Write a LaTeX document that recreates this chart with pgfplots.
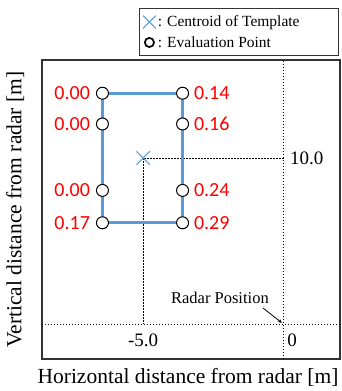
\documentclass[border=0pt]{standalone}
\usepackage{fontspec}
\setmainfont{Liberation Serif}
\newfontfamily\calfont{Carlito}
\usepackage{pgfplots}
\pgfplotsset{compat=1.18}
\definecolor{tblue}{RGB}{91,155,213}
\pgfplotsset{ptleg/.style={legend image code/.code={\draw[##1] plot coordinates {(0.2cm,0cm)};}}}
\begin{document}
\begin{tikzpicture}
\begin{axis}[
 scale only axis, width=298pt, height=299pt,
 xmin=-8.6, xmax=2, ymin=-2.1, ymax=15.9,
 xtick=\empty, ytick=\empty,
 axis line style={draw=black!80, line width=1.1pt},
 xlabel={Horizontal distance from radar [m]},
 ylabel={Vertical distance from radar [m]},
 label style={font=\fontsize{21.5}{24}\selectfont},
 xlabel style={at={(axis description cs:0.49,-0.063)}, anchor=center},
 ylabel style={at={(axis description cs:-0.09,0.5)}, anchor=center},
 legend style={at={(rel axis cs:1,1)}, anchor=south east, yshift=4pt, xshift=-1pt,
   font=\fontsize{15.5}{18}\selectfont, draw=black!80, line width=0.8pt,
   row sep=8pt, inner xsep=4pt, inner ysep=7pt,
   nodes={inner xsep=2pt, inner ysep=0pt}},
 legend cell align=left,
 clip=false,
]
\addlegendimage{only marks, mark=x, mark size=9pt, color=tblue, line width=1pt, ptleg}
\addlegendentry{: Centroid of Template\hspace*{33pt}}
\addlegendimage{only marks, mark=o, mark size=4.6pt, black, line width=1.7pt, ptleg}
\addlegendentry{: Evaluation Point}

\addplot[black, dotted, line width=1pt, forget plot] coordinates {(-8.6,0) (2,0)};
\addplot[black, dotted, line width=1pt, forget plot] coordinates {(0,-2.1) (0,15.9)};
\addplot[black, dash pattern=on 2pt off 1pt, line width=0.8pt, forget plot] coordinates {(0,10) (-5,10) (-5,0)};
\addplot[tblue, line width=3.1pt, forget plot] coordinates {(-6.45,13.9) (-3.6,13.9) (-3.6,6.1) (-6.45,6.1) (-6.45,13.9)};
\addplot[only marks, mark=x, mark size=9.5pt, tblue, line width=1.1pt, forget plot] coordinates {(-5,10)};
\addplot[only marks, mark=*, mark size=6pt, mark options={fill=white, draw=black, line width=1pt}, forget plot,
  nodes near coords, point meta=explicit symbolic,
  nodes near coords style={anchor=east, inner sep=0pt, xshift=-12pt, text=red, font=\calfont\fontsize{20}{22}\selectfont}]
  coordinates {(-6.45,13.9) [0.00] (-6.45,12.05) [0.00] (-6.45,8.05) [0.00] (-6.45,6.1) [0.17]};
\addplot[only marks, mark=*, mark size=6pt, mark options={fill=white, draw=black, line width=1pt}, forget plot,
  nodes near coords, point meta=explicit symbolic,
  nodes near coords style={anchor=west, inner sep=0pt, xshift=11pt, text=red, font=\calfont\fontsize{20}{22}\selectfont}]
  coordinates {(-3.6,13.9) [0.14] (-3.6,12.05) [0.16] (-3.6,8.05) [0.24] (-3.6,6.1) [0.29]};

\node[font=\fontsize{19}{21}\selectfont] at (axis cs:-5,-0.96) {-5.0};
\node[font=\fontsize{19}{21}\selectfont, anchor=west, inner sep=0pt] at (axis cs:0.12,-0.96) {0};
\node[font=\fontsize{19}{21}\selectfont, anchor=west, inner sep=0pt] at (axis cs:0.22,10) {10.0};
\node[font=\fontsize{16.5}{18}\selectfont] at (axis cs:-2.27,1.57) {Radar Position};
\draw[-stealth, line width=0.8pt] (axis cs:-0.74,0.97) -- (axis cs:-0.07,0.08);
\end{axis}
\path (current axis.south west) ++(-42pt,-32pt) rectangle ++(342pt,391pt);
\end{tikzpicture}
\end{document}
